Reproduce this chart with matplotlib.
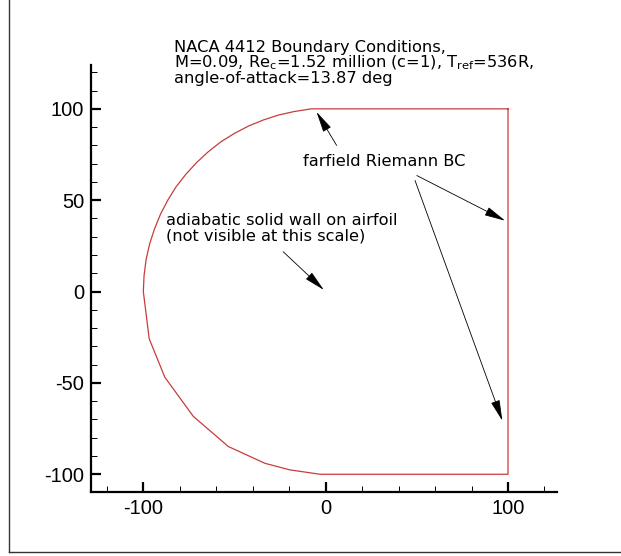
import matplotlib
matplotlib.use('Agg')
import matplotlib.pyplot as plt
from matplotlib.lines import Line2D
from matplotlib.ticker import MultipleLocator

plt.rcParams['axes.unicode_minus'] = False

# outer boundary of the C-grid (x, y)
bx = [100, 100, -3, -19.6, -33.3, -53.4, -72.6, -88.2, -96.8, -100,
      -99.6, -98.5, -96.6, -93.9, -90.6, -86.6, -82, -76.6, -70.7, -64.3,
      -57.4, -50, -42.3, -34.2, -25.9, -17.4, -8, 100]
by = [100, -100, -100, -97.6, -94, -84.8, -68.3, -46.9, -25.8, 0,
      8.7, 17.4, 25.9, 34.2, 42.3, 50, 57.4, 64.3, 70.7, 76.6,
      82, 86.6, 90.6, 93.9, 96.6, 98.5, 100, 100]

title_lines = ['NACA 4412 Boundary Conditions,',
               r'M=0.09, Re$_\mathregular{c}$=1.52 million (c=1), T$_\mathregular{ref}$=536R,',
               'angle-of-attack=13.87 deg']

farfield_label = 'farfield Riemann BC'
farfield_tail = [(6, 80), (50, 63.5), (49, 60.8)]
farfield_head = [(-5, 98.3), (98.4, 38.8), (96.9, -70.7)]

wall_label = 'adiabatic solid wall on airfoil\n(not visible at this scale)'
wall_tail = (-23.3, 21.8)
wall_head = (-1, 0.9)

xticks = [-100, 0, 100]
yticks = [-100, -50, 0, 50, 100]

W, H = 621, 556
fig = plt.figure(figsize=(W / 100, H / 100), dpi=100)
ax = fig.add_axes([91 / W, 64 / H, 465.7 / W, 427 / H])

ax.plot(bx, by, color='#c83c3c', lw=0.9)

ax.set_xlim(-128.7, 126.7)
ax.set_ylim(-109.7, 124)

for s in ['top', 'right']:
    ax.spines[s].set_visible(False)
for s in ['left', 'bottom']:
    ax.spines[s].set_linewidth(1.6)

ax.set_xticks(xticks)
ax.set_yticks(yticks)
ax.xaxis.set_minor_locator(MultipleLocator(20))
ax.yaxis.set_minor_locator(MultipleLocator(10))
ax.tick_params(which='major', direction='in', length=7.5, width=1.6, pad=5)
ax.tick_params(which='minor', direction='in', length=4.5, width=0.7)
for lab in ax.get_xticklabels() + ax.get_yticklabels():
    lab.set_family('Liberation Sans')
    lab.set_fontsize(14.5)

# title block
base_y = [52, 67.5, 83]
for t, yb in zip(title_lines, base_y):
    fig.text(174 / W, 1 - yb / H, t, fontsize=11.7, va='baseline', ha='left')

arrow = dict(arrowstyle='-|>,head_length=1.3,head_width=0.28', mutation_scale=10,
             lw=0.6, color='black', shrinkA=0, shrinkB=0)

ax.text(-12.5, 71.2, farfield_label, fontsize=11.7, va='center', ha='left')
for t, h in zip(farfield_tail, farfield_head):
    ax.annotate('', xy=h, xytext=t, arrowprops=arrow)

ax.text(-87.5, 34.8, wall_label, fontsize=11.7, va='center', ha='left', linespacing=1.05)
ax.annotate('', xy=wall_head, xytext=wall_tail, arrowprops=arrow)

# partial frame around the plot (left and bottom edges visible)
fig.add_artist(Line2D([9 / W, 9 / W], [1 - 552 / H, 1], transform=fig.transFigure,
                      color='#333333', lw=1))
fig.add_artist(Line2D([9 / W, 1], [1 - 552 / H, 1 - 552 / H], transform=fig.transFigure,
                      color='#333333', lw=1))

fig.savefig('out.png', dpi=100)
